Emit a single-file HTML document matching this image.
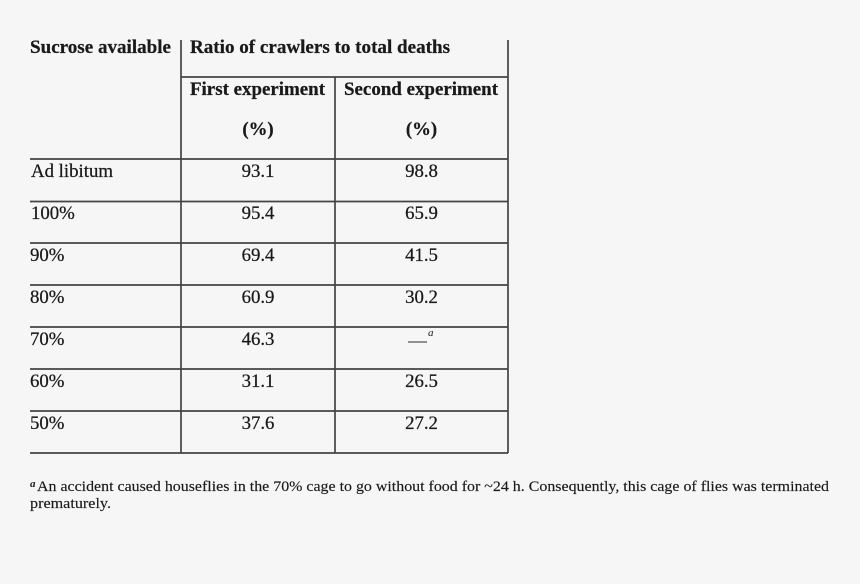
<!DOCTYPE html>
<html><head><meta charset="utf-8"><style>
html,body{margin:0;padding:0;background:#f6f6f6;}
svg{display:block;}
</style></head><body>
<svg width="860" height="584" viewBox="0 0 860 584" xmlns="http://www.w3.org/2000/svg">
<rect width="860" height="584" fill="#f6f6f6"/>
<g stroke="#444" stroke-width="1.7" fill="none">
<line x1="181" y1="40" x2="181" y2="453"/>
<line x1="335" y1="77" x2="335" y2="453"/>
<line x1="508" y1="40" x2="508" y2="453"/>
<line x1="181" y1="77" x2="508" y2="77"/>
<line x1="30" y1="159" x2="508" y2="159"/>
<line x1="30" y1="201.5" x2="508" y2="201.5"/>
<line x1="30" y1="243" x2="508" y2="243"/>
<line x1="30" y1="285" x2="508" y2="285"/>
<line x1="30" y1="327" x2="508" y2="327"/>
<line x1="30" y1="369" x2="508" y2="369"/>
<line x1="30" y1="411" x2="508" y2="411"/>
<line x1="30" y1="453" x2="508" y2="453"/>
</g>
<g font-family="'Liberation Serif', 'Times New Roman', Times, serif" style="font-family:'Liberation Serif','Times New Roman',Times,serif" fill="#1a1a1a" stroke="#1a1a1a" stroke-width="0.25">
<g font-size="18.8">
<g font-weight="bold">
<text x="30" y="53" textLength="141" lengthAdjust="spacingAndGlyphs">Sucrose available</text>
<text x="190" y="53" textLength="260" lengthAdjust="spacingAndGlyphs">Ratio of crawlers to total deaths</text>
<text x="190" y="95" textLength="135" lengthAdjust="spacingAndGlyphs">First experiment</text>
<text x="344" y="95" textLength="154" lengthAdjust="spacingAndGlyphs">Second experiment</text>
<text x="258" y="135" text-anchor="middle">(%)</text>
<text x="421.5" y="135" text-anchor="middle">(%)</text>
</g>
<text x="31" y="177" textLength="82" lengthAdjust="spacingAndGlyphs">Ad libitum</text>
<text x="31" y="219">100%</text>
<text x="30" y="261">90%</text>
<text x="30" y="303">80%</text>
<text x="30" y="345">70%</text>
<text x="30" y="387">60%</text>
<text x="30" y="429">50%</text>

<g text-anchor="middle">
<text x="258" y="177">93.1</text>
<text x="258" y="219">95.4</text>
<text x="258" y="261">69.4</text>
<text x="258" y="303">60.9</text>
<text x="258" y="345">46.3</text>
<text x="258" y="387">31.1</text>
<text x="258" y="429">37.6</text>
<text x="421.5" y="177">98.8</text>
<text x="421.5" y="219">65.9</text>
<text x="421.5" y="261">41.5</text>
<text x="421.5" y="303">30.2</text>
<text x="421.5" y="387">26.5</text>
<text x="421.5" y="429">27.2</text>
</g>
</g>
<text x="428" y="336" font-size="11" font-style="italic" stroke-width="0">a</text>
<text x="30" y="487" font-size="11" font-style="italic" font-weight="bold" stroke-width="0">a</text>
<text x="37" y="491" font-size="15" stroke-width="0.15" textLength="792" lengthAdjust="spacingAndGlyphs">An accident caused houseflies in the 70% cage to go without food for ~24 h. Consequently, this cage of flies was terminated</text>
<text x="30" y="508" font-size="15" stroke-width="0.15" textLength="81" lengthAdjust="spacingAndGlyphs">prematurely.</text>
</g>
<line x1="408" y1="342" x2="427" y2="342" stroke="#2a2a2a" stroke-width="1"/>
</svg>
</body></html>
